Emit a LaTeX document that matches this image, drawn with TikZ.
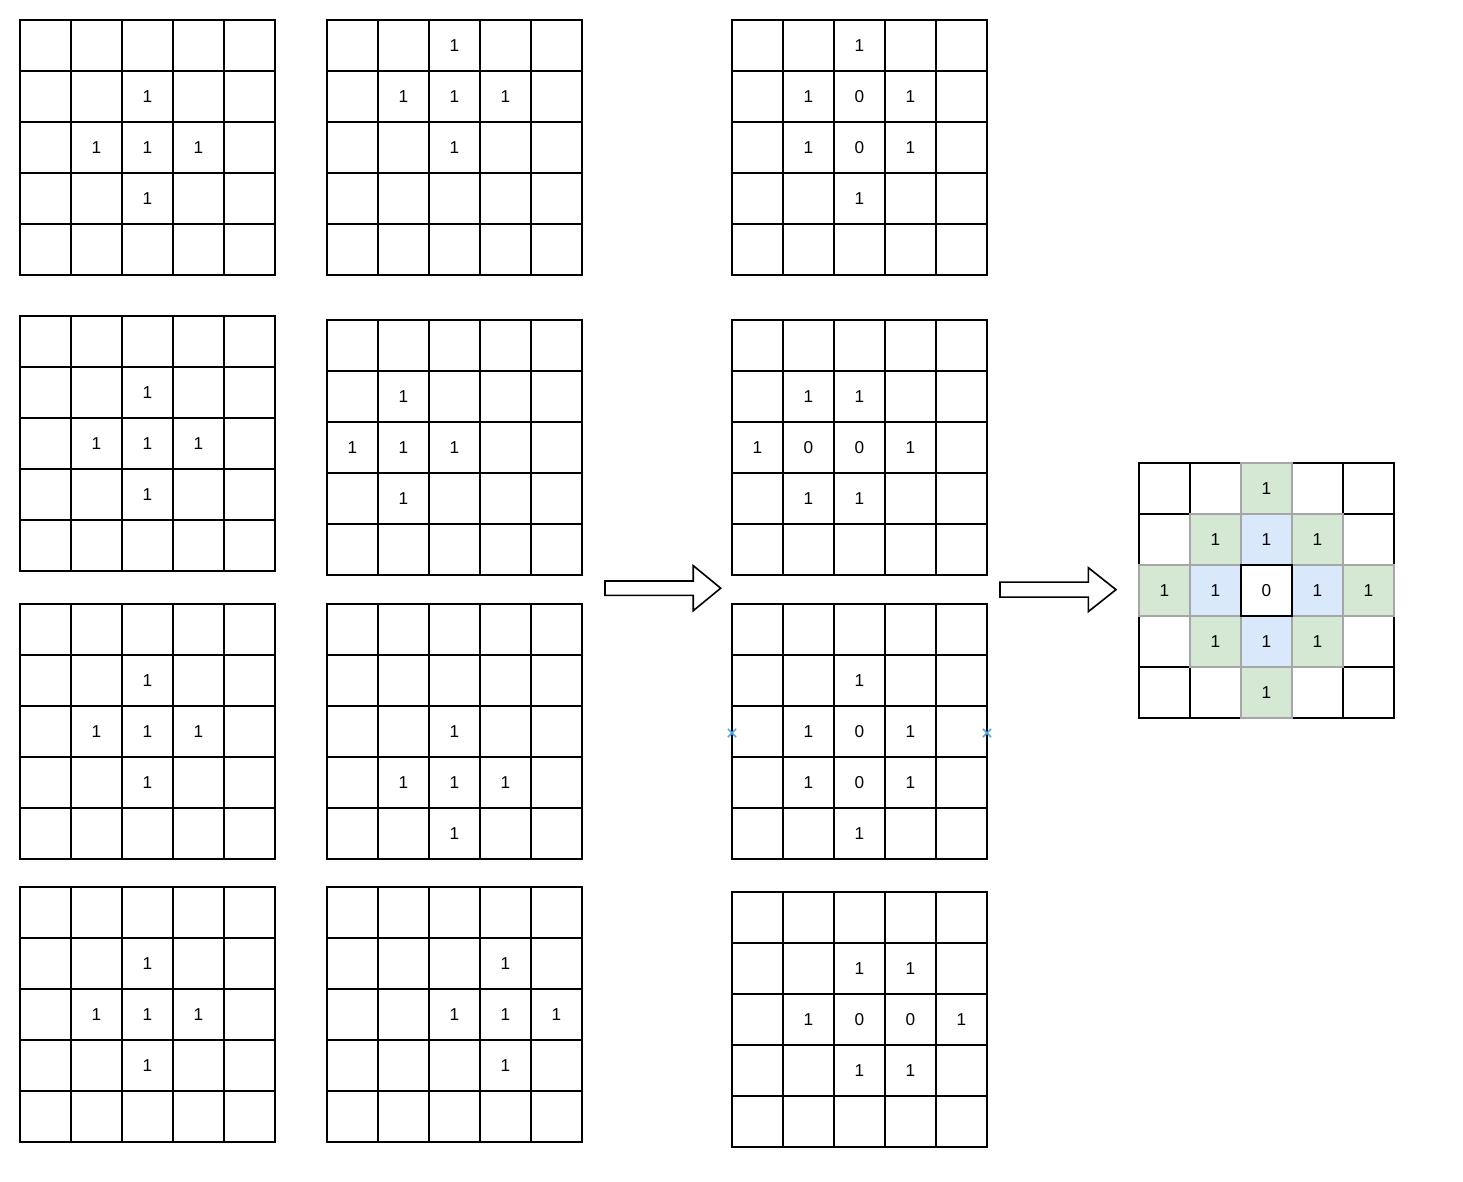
\documentclass[tikz,border=0pt]{standalone}
\usepackage{fontspec}
\setmainfont{Liberation Sans}
\definecolor{cellgreen}{HTML}{D5E8D4}
\definecolor{cellblue}{HTML}{DAE8FC}
\definecolor{markblue}{HTML}{4FA8E8}
\tikzset{
  cell/.style={line width=1.1pt, line cap=rect},
  num/.style={font=\fontsize{9.6}{11}\selectfont, inner sep=0pt},
  blockarrow/.style={line width=0.9pt, line join=miter, fill=white},
}
\begin{document}
\begin{tikzpicture}
    \useasboundingbox (0,0) rectangle (28.686,23.176);

    % left column: four copies of the cross
    \begin{scope}[shift={(0.392,17.784)}]
        \draw[cell] (0,0) grid (5,5);
        \node[num] (a1-23) at (2.5,3.5) {1};
        \node[num] (a1-32) at (1.5,2.5) {1};
        \node[num] (a1-33) at (2.5,2.5) {1};
        \node[num] (a1-34) at (3.5,2.5) {1};
        \node[num] (a1-43) at (2.5,1.5) {1};
    \end{scope}
    \begin{scope}[shift={(0.392,11.980)}]
        \draw[cell] (0,0) grid (5,5);
        \node[num] (a2-23) at (2.5,3.5) {1};
        \node[num] (a2-32) at (1.5,2.5) {1};
        \node[num] (a2-33) at (2.5,2.5) {1};
        \node[num] (a2-34) at (3.5,2.5) {1};
        \node[num] (a2-43) at (2.5,1.5) {1};
    \end{scope}
    \begin{scope}[shift={(0.392,6.333)}]
        \draw[cell] (0,0) grid (5,5);
        \node[num] (a3-23) at (2.5,3.5) {1};
        \node[num] (a3-32) at (1.5,2.5) {1};
        \node[num] (a3-33) at (2.5,2.5) {1};
        \node[num] (a3-34) at (3.5,2.5) {1};
        \node[num] (a3-43) at (2.5,1.5) {1};
    \end{scope}
    \begin{scope}[shift={(0.392,0.784)}]
        \draw[cell] (0,0) grid (5,5);
        \node[num] (a4-23) at (2.5,3.5) {1};
        \node[num] (a4-32) at (1.5,2.5) {1};
        \node[num] (a4-33) at (2.5,2.5) {1};
        \node[num] (a4-34) at (3.5,2.5) {1};
        \node[num] (a4-43) at (2.5,1.5) {1};
    \end{scope}

    % second column: the cross moved up, left, down, right
    \begin{scope}[shift={(6.412,17.784)}]
        \draw[cell] (0,0) grid (5,5);
        \node[num] (b1-13) at (2.5,4.5) {1};
        \node[num] (b1-22) at (1.5,3.5) {1};
        \node[num] (b1-23) at (2.5,3.5) {1};
        \node[num] (b1-24) at (3.5,3.5) {1};
        \node[num] (b1-33) at (2.5,2.5) {1};
    \end{scope}
    \begin{scope}[shift={(6.412,11.902)}]
        \draw[cell] (0,0) grid (5,5);
        \node[num] (b2-22) at (1.5,3.5) {1};
        \node[num] (b2-31) at (0.5,2.5) {1};
        \node[num] (b2-32) at (1.5,2.5) {1};
        \node[num] (b2-33) at (2.5,2.5) {1};
        \node[num] (b2-42) at (1.5,1.5) {1};
    \end{scope}
    \begin{scope}[shift={(6.412,6.333)}]
        \draw[cell] (0,0) grid (5,5);
        \node[num] (b3-33) at (2.5,2.5) {1};
        \node[num] (b3-42) at (1.5,1.5) {1};
        \node[num] (b3-43) at (2.5,1.5) {1};
        \node[num] (b3-44) at (3.5,1.5) {1};
        \node[num] (b3-53) at (2.5,0.5) {1};
    \end{scope}
    \begin{scope}[shift={(6.412,0.784)}]
        \draw[cell] (0,0) grid (5,5);
        \node[num] (b4-24) at (3.5,3.5) {1};
        \node[num] (b4-33) at (2.5,2.5) {1};
        \node[num] (b4-34) at (3.5,2.5) {1};
        \node[num] (b4-35) at (4.5,2.5) {1};
        \node[num] (b4-44) at (3.5,1.5) {1};
    \end{scope}

    % third column: pairwise results
    \begin{scope}[shift={(14.353,17.784)}]
        \draw[cell] (0,0) grid (5,5);
        \node[num] (c1-13) at (2.5,4.5) {1};
        \node[num] (c1-22) at (1.5,3.5) {1};
        \node[num] (c1-23) at (2.5,3.5) {0};
        \node[num] (c1-24) at (3.5,3.5) {1};
        \node[num] (c1-32) at (1.5,2.5) {1};
        \node[num] (c1-33) at (2.5,2.5) {0};
        \node[num] (c1-34) at (3.5,2.5) {1};
        \node[num] (c1-43) at (2.5,1.5) {1};
    \end{scope}
    \begin{scope}[shift={(14.353,11.902)}]
        \draw[cell] (0,0) grid (5,5);
        \node[num] (c2-22) at (1.5,3.5) {1};
        \node[num] (c2-23) at (2.5,3.5) {1};
        \node[num] (c2-31) at (0.5,2.5) {1};
        \node[num] (c2-32) at (1.5,2.5) {0};
        \node[num] (c2-33) at (2.5,2.5) {0};
        \node[num] (c2-34) at (3.5,2.5) {1};
        \node[num] (c2-42) at (1.5,1.5) {1};
        \node[num] (c2-43) at (2.5,1.5) {1};
    \end{scope}
    \begin{scope}[shift={(14.353,6.333)}]
        \draw[cell] (0,0) grid (5,5);
        \node[num] (c3-23) at (2.5,3.5) {1};
        \node[num] (c3-32) at (1.5,2.5) {1};
        \node[num] (c3-33) at (2.5,2.5) {0};
        \node[num] (c3-34) at (3.5,2.5) {1};
        \node[num] (c3-42) at (1.5,1.5) {1};
        \node[num] (c3-43) at (2.5,1.5) {0};
        \node[num] (c3-44) at (3.5,1.5) {1};
        \node[num] (c3-53) at (2.5,0.5) {1};
    \end{scope}
    \begin{scope}[shift={(14.353,0.686)}]
        \draw[cell] (0,0) grid (5,5);
        \node[num] (c4-23) at (2.5,3.5) {1};
        \node[num] (c4-24) at (3.5,3.5) {1};
        \node[num] (c4-32) at (1.5,2.5) {1};
        \node[num] (c4-33) at (2.5,2.5) {0};
        \node[num] (c4-34) at (3.5,2.5) {0};
        \node[num] (c4-35) at (4.5,2.5) {1};
        \node[num] (c4-43) at (2.5,1.5) {1};
        \node[num] (c4-44) at (3.5,1.5) {1};
    \end{scope}
    \draw[markblue, line width=0.9pt] (14.353,8.804) +(-0.08,-0.08) -- +(0.08,0.08) +(-0.08,0.08) -- +(0.08,-0.08);
    \draw[markblue, line width=0.9pt] (19.353,8.804) +(-0.08,-0.08) -- +(0.08,0.08) +(-0.08,0.08) -- +(0.08,-0.08);

    % result
    \begin{scope}[shift={(22.333,9.098)}]
        \fill[cellgreen] (2,4) rectangle (3,5) (1,3) rectangle (2,4) (3,3) rectangle (4,4)
            (0,2) rectangle (1,3) (4,2) rectangle (5,3)
            (1,1) rectangle (2,2) (3,1) rectangle (4,2) (2,0) rectangle (3,1);
        \fill[cellblue] (2,3) rectangle (3,4) (1,2) rectangle (2,3) (3,2) rectangle (4,3) (2,1) rectangle (3,2);
        \draw[cell] (0,0) grid (5,5);
        \draw[cell, gray!70] (2,4) rectangle (3,5) (1,3) rectangle (4,4) (0,2) rectangle (5,3)
            (1,1) rectangle (4,2) (2,0) rectangle (3,1) (2,1) -- (2,4) (3,1) -- (3,4)
            (1,1) -- (1,4) (4,1) -- (4,4);
        \draw[cell] (2,2) rectangle (3,3);
        \node[num] (r-13) at (2.5,4.5) {1};
        \node[num] (r-22) at (1.5,3.5) {1};
        \node[num] (r-23) at (2.5,3.5) {1};
        \node[num] (r-24) at (3.5,3.5) {1};
        \node[num] (r-31) at (0.5,2.5) {1};
        \node[num] (r-32) at (1.5,2.5) {1};
        \node[num] (r-33) at (2.5,2.5) {0};
        \node[num] (r-34) at (3.5,2.5) {1};
        \node[num] (r-35) at (4.5,2.5) {1};
        \node[num] (r-42) at (1.5,1.5) {1};
        \node[num] (r-43) at (2.5,1.5) {1};
        \node[num] (r-44) at (3.5,1.5) {1};
        \node[num] (r-53) at (2.5,0.5) {1};
    \end{scope}

    % block arrows
    \draw[blockarrow] (11.863,11.502) -- (13.594,11.502) -- (13.594,11.202) -- (14.131,11.643)
        -- (13.594,12.084) -- (13.594,11.784) -- (11.863,11.784) -- cycle;
    \draw[blockarrow] (19.608,11.467) -- (21.339,11.467) -- (21.339,11.183) -- (21.882,11.614)
        -- (21.339,12.045) -- (21.339,11.761) -- (19.608,11.761) -- cycle;
\end{tikzpicture}
\end{document}
